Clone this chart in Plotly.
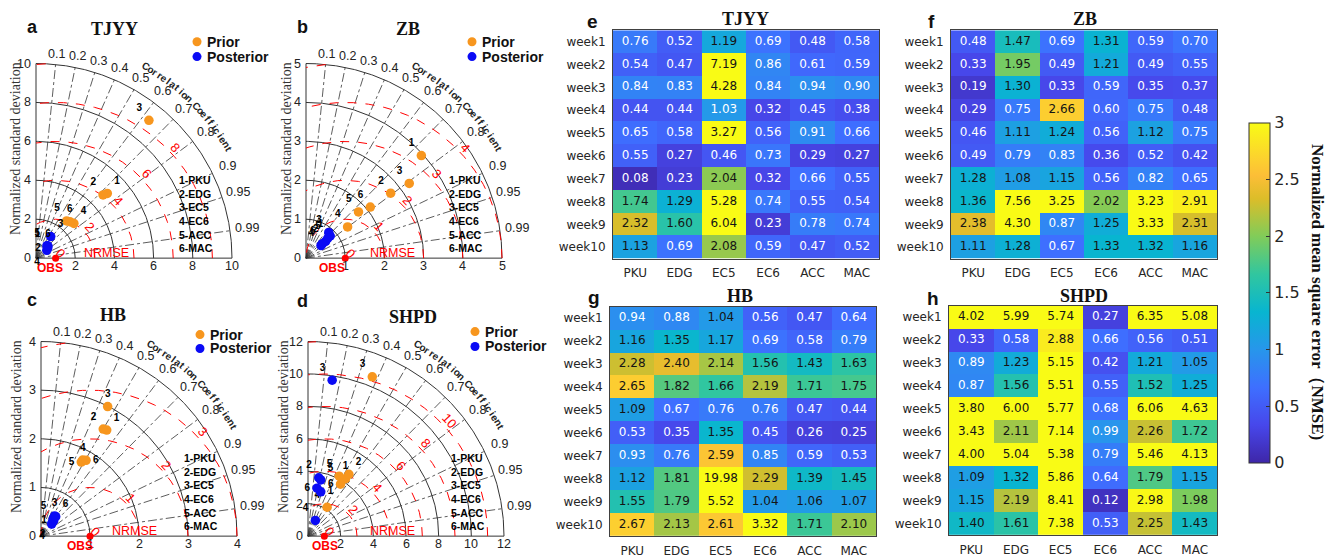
import numpy as np
import plotly.graph_objects as go

W, H = 1328, 558

# ---------------- data ----------------
models = ["PKU", "EDG", "EC5", "EC6", "ACC", "MAC"]
model_numbers = ["1", "2", "3", "4", "5", "6"]
weeks = ["week1", "week2", "week3", "week4", "week5",
         "week6", "week7", "week8", "week9", "week10"]
sites = ["TJYY", "ZB", "HB", "SHPD"]
taylor_letters = ["a", "b", "c", "d"]
heat_letters = ["e", "f", "g", "h"]
corr_ticks = [0.1, 0.2, 0.3, 0.4, 0.5, 0.6, 0.7, 0.8, 0.9, 0.95, 0.99]
corr_tick_labels = ["0.1", "0.2", "0.3", "0.4", "0.5", "0.6", "0.7", "0.8", "0.9", "0.95", "0.99"]
cbar_ticks = [0, 0.5, 1, 1.5, 2, 2.5, 3]
cbar_tick_labels = ["0", "0.5", "1", "1.5", "2", "2.5", "3"]

std_max = [10, 5, 4, 12]
std_step = [2, 1, 1, 2]
rmse_label_max = [8, 4, 3, 10]

# Taylor diagram values (normalized std, correlation), order PKU..MAC
tjyy_prior_std = [4.93, 4.72, 9.13, 2.63, 2.47, 2.55]
tjyy_prior_corr = [0.738, 0.725, 0.631, 0.735, 0.633, 0.678]
tjyy_post_std = [0.82, 0.79, 1.34, 0.68, 0.85, 0.87]
tjyy_post_corr = [0.707, 0.756, 0.560, 0.809, 0.659, 0.701]
zb_prior_std = [3.95, 2.73, 3.26, 1.33, 1.79, 2.10]
zb_prior_corr = [0.745, 0.791, 0.808, 0.798, 0.748, 0.781]
zb_post_std = [0.84, 0.66, 0.88, 0.50, 0.76, 0.56]
zb_post_corr = [0.736, 0.758, 0.660, 0.765, 0.733, 0.750]
hb_prior_std = [2.56, 2.54, 2.99, 1.78, 1.73, 1.81]
hb_prior_corr = [0.524, 0.500, 0.455, 0.478, 0.475, 0.508]
hb_post_std = [0.41, 0.36, 0.50, 0.33, 0.44, 0.50]
hb_post_corr = [0.631, 0.635, 0.555, 0.661, 0.570, 0.600]
shpd_prior_std = [4.22, 4.56, 10.58, 2.13, 4.16, 3.77]
shpd_prior_corr = [0.545, 0.549, 0.372, 0.549, 0.459, 0.528]
shpd_post_std = [2.84, 3.66, 9.73, 1.07, 3.55, 3.01]
shpd_post_corr = [0.275, 0.180, 0.152, 0.421, 0.220, 0.183]

# NMSE heatmaps (rows week1..week10, columns PKU..MAC)
nmse_tjyy = [
    [0.76, 0.52, 1.19, 0.69, 0.48, 0.58],
    [0.54, 0.47, 7.19, 0.86, 0.61, 0.59],
    [0.84, 0.83, 4.28, 0.84, 0.94, 0.90],
    [0.44, 0.44, 1.03, 0.32, 0.45, 0.38],
    [0.65, 0.58, 3.27, 0.56, 0.91, 0.66],
    [0.55, 0.27, 0.46, 0.73, 0.29, 0.27],
    [0.08, 0.23, 2.04, 0.32, 0.66, 0.55],
    [1.74, 1.29, 5.28, 0.74, 0.55, 0.54],
    [2.32, 1.60, 6.04, 0.23, 0.78, 0.74],
    [1.13, 0.69, 2.08, 0.59, 0.47, 0.52],
]
nmse_zb = [
    [0.48, 1.47, 0.69, 1.31, 0.59, 0.70],
    [0.33, 1.95, 0.49, 1.21, 0.49, 0.55],
    [0.19, 1.30, 0.33, 0.59, 0.35, 0.37],
    [0.29, 0.75, 2.66, 0.60, 0.75, 0.48],
    [0.46, 1.11, 1.24, 0.56, 1.12, 0.75],
    [0.49, 0.79, 0.83, 0.36, 0.52, 0.42],
    [1.28, 1.08, 1.15, 0.56, 0.82, 0.65],
    [1.36, 7.56, 3.25, 2.02, 3.23, 2.91],
    [2.38, 4.30, 0.87, 1.25, 3.33, 2.31],
    [1.11, 1.28, 0.67, 1.33, 1.32, 1.16],
]
nmse_hb = [
    [0.94, 0.88, 1.04, 0.56, 0.47, 0.64],
    [1.16, 1.35, 1.17, 0.69, 0.58, 0.79],
    [2.28, 2.40, 2.14, 1.56, 1.43, 1.63],
    [2.65, 1.82, 1.66, 2.19, 1.71, 1.75],
    [1.09, 0.67, 0.76, 0.76, 0.47, 0.44],
    [0.53, 0.35, 1.35, 0.45, 0.26, 0.25],
    [0.93, 0.76, 2.59, 0.85, 0.59, 0.53],
    [1.12, 1.81, 19.98, 2.29, 1.39, 1.45],
    [1.55, 1.79, 5.52, 1.04, 1.06, 1.07],
    [2.67, 2.13, 2.61, 3.32, 1.71, 2.10],
]
nmse_shpd = [
    [4.02, 5.99, 5.74, 0.27, 6.35, 5.08],
    [0.33, 0.58, 2.88, 0.66, 0.56, 0.51],
    [0.89, 1.23, 5.15, 0.42, 1.21, 1.05],
    [0.87, 1.56, 5.51, 0.55, 1.52, 1.25],
    [3.80, 6.00, 5.77, 0.68, 6.06, 4.63],
    [3.43, 2.11, 7.14, 0.99, 2.26, 1.72],
    [4.00, 5.04, 5.38, 0.79, 5.46, 4.13],
    [1.09, 1.32, 5.86, 0.64, 1.79, 1.15],
    [1.15, 2.19, 8.41, 0.12, 2.98, 1.98],
    [1.40, 1.61, 7.38, 0.53, 2.25, 1.43],
]

# ---------------- style ----------------
DARK = "#333333"
TXT = "#222222"
ORANGE = "rgb(247,150,30)"
BLUE = "rgb(10,10,245)"
RED = "rgb(255,0,0)"
SANS = "Liberation Sans"
SERIF = "Liberation Serif"
DEJAVU = "DejaVu Sans"

parula = [
    [0.0, "rgb(62,38,168)"], [1 / 9, "rgb(71,71,235)"], [2 / 9, "rgb(62,111,255)"],
    [3 / 9, "rgb(39,150,235)"], [4 / 9, "rgb(8,181,208)"], [5 / 9, "rgb(49,198,159)"],
    [6 / 9, "rgb(129,204,89)"], [7 / 9, "rgb(220,189,41)"], [0.845, "rgb(252,190,55)"],
    [8 / 9, "rgb(252,207,48)"], [1.0, "rgb(249,251,21)"],
]

R_PX = 196
taylor_origin = [(36, 260), (306, 260), (41, 540), (308, 540)]
nrmse_px = [70, 86, 93, 84]
obs_shift = [-6, -13, -10, 1]
ytitle_dx = [20, 19, 24, 24]
rmse_label_angle = 43.0
taylor_title_px = [(114, 29), (408, 29), (113, 317), (413, 319)]
taylor_letter_px = [(32, 27), (302, 27), (32, 302), (302, 303)]
legend_px = [(197, 42, 57), (472, 42, 57), (200, 337, 351), (475, 334, 349)]

prior_pos = [
    ["top right", "top left", "top left", "top right", "top left", "top center"],
    ["top left"] * 6,
    ["top right", "top left", "top center", "top center", "middle left", "middle right"],
    ["top center", "top right", "top left", "top left", "top left", "middle left"],
]
post_pos = [
    ["top left", "middle left", "top right", "bottom left", "top left", "top center"],
    ["top left"] * 6,
    ["middle left", "bottom left", "top center", "bottom left", "top left", "top right"],
    ["middle right", "top left", "top left", "top left", "top right", "middle left"],
]

heat_dom_px = [(613, 879, 30.5, 260.5), (951, 1217, 30.5, 260.5),
               (610, 876, 309, 540), (949, 1217, 308, 539)]
heat_title_px = [(745, 19), (1085, 19), (740, 298), (1084, 298)]
heat_letter_px = [(592, 22), (932, 22), (594, 300), (933, 301)]
label_dark_from = 1.035

prior_std = [tjyy_prior_std, zb_prior_std, hb_prior_std, shpd_prior_std]
prior_corr = [tjyy_prior_corr, zb_prior_corr, hb_prior_corr, shpd_prior_corr]
post_std = [tjyy_post_std, zb_post_std, hb_post_std, shpd_post_std]
post_corr = [tjyy_post_corr, zb_post_corr, hb_post_corr, shpd_post_corr]
nmse_all = [nmse_tjyy, nmse_zb, nmse_hb, nmse_shpd]


def pxx(p):
    return p / W


def pxy(p):
    return 1 - p / H


fig = go.Figure()
ann = []
shapes = []
axes = {}


def names(n):
    return ("x" if n == 1 else f"x{n}", "y" if n == 1 else f"y{n}",
            "xaxis" if n == 1 else f"xaxis{n}", "yaxis" if n == 1 else f"yaxis{n}")


# ---------------- Taylor diagrams ----------------
cc_text = "Correlation Coefficient"
for k in range(4):
    n = k + 1
    xa, ya, xkey, ykey = names(n)
    ox, oy = taylor_origin[k]
    M = std_max[k]
    st = std_step[k]
    s = R_PX / M
    xlo_px, xhi_px = 32, R_PX + 34
    ylo_px, yhi_px = 4, R_PX + 44
    axes[xkey] = dict(domain=[(ox - xlo_px) / W, (ox + xhi_px) / W],
                      range=[-xlo_px / s, xhi_px / s],
                      visible=False, anchor=ya, fixedrange=True)
    axes[ykey] = dict(domain=[1 - (oy + ylo_px) / H, 1 - (oy - yhi_px) / H],
                      range=[-ylo_px / s, yhi_px / s],
                      visible=False, anchor=xa, fixedrange=True)
    common = dict(xaxis=xa, yaxis=ya, hoverinfo="skip", showlegend=False)

    # std arcs + axes
    th = np.linspace(0, np.pi / 2, 240)
    gx, gy = [0, M, None, 0, 0, None], [0, 0, None, 0, M, None]
    for r in np.arange(st, M + 1e-9, st):
        gx += list(r * np.cos(th)) + [None]
        gy += list(r * np.sin(th)) + [None]
    fig.add_trace(go.Scatter(x=gx, y=gy, mode="lines", line=dict(color=DARK, width=1), **common))

    # correlation rays
    cx, cy = [], []
    for c in corr_ticks:
        cx += [0, M * c, None]
        cy += [0, M * np.sqrt(1 - c * c), None]
    fig.add_trace(go.Scatter(x=cx, y=cy, mode="lines",
                             line=dict(color=DARK, width=0.8, dash="dashdot"), **common))

    # RMSE arcs centred on OBS (1, 0)
    phi = np.linspace(0, np.pi, 2400)
    rx, ry = [], []
    for r in np.arange(st, M + 1e-9, st):
        ax_ = 1 + r * np.cos(phi)
        ay_ = r * np.sin(phi)
        ok = (ax_ >= 0) & (np.hypot(ax_, ay_) <= M)
        rx += [float(a) if o else None for a, o in zip(ax_, ok)] + [None]
        ry += [float(b) if o else None for b, o in zip(ay_, ok)] + [None]
    fig.add_trace(go.Scatter(x=rx, y=ry, mode="lines",
                             line=dict(color=RED, width=1, dash="dash"), **common))

    # points
    for sd_, cr_, col, pos in [(prior_std[k], prior_corr[k], ORANGE, prior_pos[k]),
                               (post_std[k], post_corr[k], BLUE, post_pos[k])]:
        sd = np.array(sd_)
        cr = np.array(cr_)
        fig.add_trace(go.Scatter(
            x=sd * cr, y=sd * np.sqrt(1 - cr ** 2), mode="markers+text",
            text=model_numbers, textposition=pos,
            textfont=dict(family=SANS, size=10, color="black", weight="bold"),
            marker=dict(color=col, size=9.5, line=dict(width=0)),
            cliponaxis=False, **common))
    fig.add_trace(go.Scatter(x=[1], y=[0], mode="markers", marker=dict(color=RED, size=7),
                             cliponaxis=False, **common))

    A = dict(xref=xa, yref=ya, showarrow=False)
    # std tick labels
    for t in np.arange(0, M + 1e-9, st):
        ann.append(dict(A, x=0, y=t, text=f"{int(t)}", xanchor="right", yanchor="middle",
                        xshift=-3, font=dict(family=SANS, size=12.5, color=TXT)))
    for t in np.arange(st, M + 1e-9, st):
        ann.append(dict(A, x=t, y=0, text=f"{int(t)}", xanchor="center", yanchor="middle",
                        yshift=-8, font=dict(family=SANS, size=12.5, color=TXT)))
    # correlation labels
    for c, lab in zip(corr_ticks, corr_tick_labels):
        thc = np.arccos(c)
        r = M + (10 + 7 * np.cos(thc)) / s
        ann.append(dict(A, x=r * np.cos(thc), y=r * np.sin(thc), text=lab,
                        xanchor="center", yanchor="middle",
                        font=dict(family=SANS, size=12.5, color=TXT)))
    # curved "Correlation Coefficient"
    r_cc = 222 / s
    nchar = len(cc_text)
    for i, ch in enumerate(cc_text):
        if ch == " ":
            continue
        deg = 60.3 - i * (30.7 / (nchar - 1))
        rad = np.radians(deg)
        ann.append(dict(A, x=r_cc * np.cos(rad), y=r_cc * np.sin(rad), text=ch,
                        textangle=90 - deg, xanchor="center", yanchor="middle",
                        font=dict(family=SANS, size=10, color=TXT, weight="bold")))
    # RMSE labels
    rad = np.radians(rmse_label_angle)
    for v in np.arange(0, rmse_label_max[k] + 1e-9, st):
        d = v + 7 / s
        ann.append(dict(A, x=1 + d * np.cos(rad), y=d * np.sin(rad), text=f"{int(v)}",
                        textangle=90 - rmse_label_angle, xanchor="center", yanchor="middle",
                        font=dict(family=SANS, size=13, color=RED)))
    ann.append(dict(A, x=nrmse_px[k] / s, y=5 / s, text="NRMSE", xanchor="center",
                    yanchor="middle", font=dict(family=SANS, size=12.5, color=RED)))
    ann.append(dict(A, x=1, y=0, text="OBS", xanchor="center", yanchor="middle",
                    xshift=obs_shift[k], yshift=-10,
                    font=dict(family=SANS, size=12, color=RED, weight="bold")))
    ann.append(dict(A, x=141 / s, y=87 / s, xanchor="left", yanchor="top", align="left",
                    text="<br>".join(f"{a}-{b}" for a, b in zip(model_numbers, models)),
                    font=dict(family=SANS, size=10.5, color="black", weight="bold")))
    ann.append(dict(A, x=-ytitle_dx[k] / s, y=110 / s, text="Normalized standard deviation",
                    textangle=-90, xanchor="center", yanchor="middle",
                    font=dict(family=SERIF, size=14, color=DARK)))

    P = dict(xref="paper", yref="paper", showarrow=False)
    tx, ty = taylor_title_px[k]
    ann.append(dict(P, x=pxx(tx), y=pxy(ty), text=sites[k], xanchor="center", yanchor="middle",
                    font=dict(family=SERIF, size=18, color="#111", weight="bold")))
    lx, ly = taylor_letter_px[k]
    ann.append(dict(P, x=pxx(lx), y=pxy(ly), text=taylor_letters[k], xanchor="center",
                    yanchor="middle", font=dict(family=SANS, size=18, color="#111", weight="bold")))
    # legend
    gx0, gy1, gy2 = legend_px[k]
    for yy, col, lab in [(gy1, ORANGE, "Prior"), (gy2, BLUE, "Posterior")]:
        shapes.append(dict(type="circle", xref="paper", yref="paper", xsizemode="pixel",
                           ysizemode="pixel", xanchor=pxx(gx0), yanchor=pxy(yy),
                           x0=-4.5, x1=4.5, y0=-4.5, y1=4.5, fillcolor=col,
                           line=dict(width=0)))
        ann.append(dict(P, x=pxx(gx0 + 8), y=pxy(yy), text=lab, xanchor="left", yanchor="middle",
                        font=dict(family=SANS, size=14, color="#111", weight="bold")))

# ---------------- heatmaps ----------------
for k in range(4):
    n = 5 + k
    xa, ya, xkey, ykey = names(n)
    z = nmse_all[k]
    fig.add_trace(go.Heatmap(z=z, x=models, y=weeks, coloraxis="coloraxis",
                             xaxis=xa, yaxis=ya, hoverinfo="skip"))
    tx_, ty_, tt_, tc_ = [], [], [], []
    for i, w in enumerate(weeks):
        for j, m in enumerate(models):
            v = z[i][j]
            tx_.append(m)
            ty_.append(w)
            tt_.append(f"{v:.2f}")
            tc_.append("#151515" if v >= label_dark_from else "#ffffff")
    fig.add_trace(go.Scatter(x=tx_, y=ty_, mode="text", text=tt_,
                             textfont=dict(family=DEJAVU, size=12, color=tc_),
                             xaxis=xa, yaxis=ya, hoverinfo="skip", showlegend=False,
                             cliponaxis=False))
    x0, x1, y0, y1 = heat_dom_px[k]
    axes[xkey] = dict(domain=[x0 / W, x1 / W], anchor=ya, type="category",
                      categoryorder="array", categoryarray=models,
                      range=[-0.5, 5.5], showgrid=False, zeroline=False,
                      showline=True, mirror=True, linecolor="#404040", linewidth=1,
                      ticks="", ticklabelstandoff=3,
                      tickfont=dict(family=DEJAVU, size=12, color="#262626"), fixedrange=True)
    axes[ykey] = dict(domain=[1 - y1 / H, 1 - y0 / H], anchor=xa, type="category",
                      categoryorder="array", categoryarray=weeks,
                      range=[9.5, -0.5], showgrid=False, zeroline=False,
                      showline=True, mirror=True, linecolor="#404040", linewidth=1,
                      ticks="", ticklabelstandoff=4,
                      tickfont=dict(family=DEJAVU, size=12, color="#262626"), fixedrange=True)
    P = dict(xref="paper", yref="paper", showarrow=False)
    hx, hy = heat_title_px[k]
    ann.append(dict(P, x=pxx(hx), y=pxy(hy), text=sites[k], xanchor="center", yanchor="middle",
                    font=dict(family=SERIF, size=18, color="#111", weight="bold")))
    lx, ly = heat_letter_px[k]
    ann.append(dict(P, x=pxx(lx), y=pxy(ly), text=heat_letters[k], xanchor="center",
                    yanchor="middle", font=dict(family=SANS, size=19, color="#111", weight="bold")))

ann.append(dict(xref="paper", yref="paper", showarrow=False, x=pxx(1317), y=pxy(294),
                text="Normalized mean square error（NMSE)", textangle=90,
                xanchor="center", yanchor="middle",
                font=dict(family=SERIF, size=17, color="#111", weight="bold")))

fig.update_layout(
    width=W, height=H, autosize=False,
    margin=dict(l=0, r=0, t=0, b=0),
    paper_bgcolor="white", plot_bgcolor="rgba(0,0,0,0)",
    showlegend=False,
    annotations=ann, shapes=shapes,
    coloraxis=dict(
        cmin=0, cmax=3, colorscale=parula,
        colorbar=dict(x=pxx(1249), xanchor="left", y=pxy(295), yanchor="middle",
                      len=342 / H, lenmode="fraction", thickness=21, thicknessmode="pixels",
                      xpad=0, ypad=0, outlinewidth=1, outlinecolor=DARK,
                      tickvals=cbar_ticks, ticktext=cbar_tick_labels,
                      ticks="inside", ticklen=4, tickcolor=DARK,
                      tickfont=dict(family=DEJAVU, size=16, color="#262626")),
    ),
    **axes,
)

fig.write_html("out.html",
               config={"displayModeBar": False},
               post_script="document.body.style.margin='0px';"
                           "document.body.style.overflow='hidden';")
